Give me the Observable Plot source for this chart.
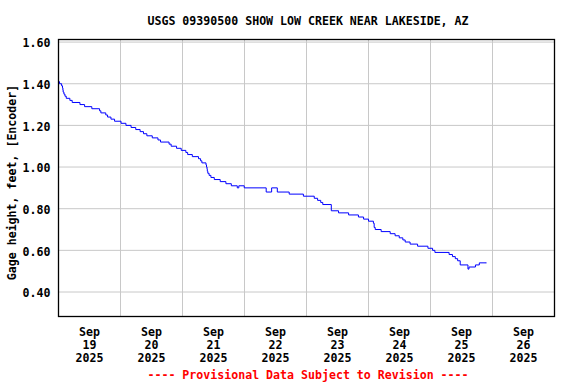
<!DOCTYPE html>
<html><head><meta charset="utf-8">
<script src="https://cdn.jsdelivr.net/npm/d3@7"></script>
<script src="https://cdn.jsdelivr.net/npm/@observablehq/plot@0.6"></script>
<style>body{margin:0;background:#fff}</style>
</head><body><div id="chart"></div>
<script>
const title = "USGS 09390500 SHOW LOW CREEK NEAR LAKESIDE, AZ";
const yLabel = "Gage height, feet, [Encoder]";
const caption = "---- Provisional Data Subject to Revision ----";

// hours since 2025-09-19 00:00 (step change points) and gage height (ft)
const hours = [0, 0.4, 1.2, 1.55, 1.7, 1.8, 2.1, 2.5, 3.0, 4.4, 5.3, 8.3, 10.1, 12.9, 15.9, 16.4, 18.3, 19.0, 20.3, 21.7,
  24.2, 26.1, 28.1, 29.9, 31.6, 32.9, 34.2, 36.3, 38.5, 39.5, 42.8, 43.6, 45.7, 47.5, 49.3, 50.0, 51.8, 54.2, 55.0, 55.5,
  57.1, 57.3, 57.5, 57.6, 57.8, 58.3, 59.0, 60.3, 62.6, 64.8, 66.9, 69.2, 69.8, 71.9, 80.4, 82.5, 84.7, 89.3, 94.8, 99.0,
  100.3, 101.5, 102.3, 105.6, 108.4, 112.3, 116.1, 118.1, 120.0, 121.9, 122.2, 122.6, 124.9, 128.4, 130.3, 131.9, 133.3, 134.2, 136.1, 139.0,
  143.0, 144.8, 145.7, 151.2, 152.5, 153.6, 154.5, 155.5, 158.5, 158.9, 161.4, 162.9, 165.6];
const gage = [1.41, 1.40, 1.39, 1.38, 1.37, 1.36, 1.35, 1.34, 1.33, 1.32, 1.31, 1.30, 1.29, 1.28, 1.27, 1.26, 1.25, 1.24, 1.23, 1.22,
  1.21, 1.20, 1.19, 1.18, 1.17, 1.16, 1.15, 1.14, 1.13, 1.12, 1.11, 1.10, 1.09, 1.08, 1.07, 1.06, 1.05, 1.04, 1.03, 1.02,
  1.01, 1.00, 0.99, 0.98, 0.97, 0.96, 0.95, 0.94, 0.93, 0.92, 0.91, 0.90, 0.91, 0.90, 0.88, 0.90, 0.88, 0.87, 0.86, 0.85,
  0.84, 0.83, 0.82, 0.79, 0.78, 0.77, 0.76, 0.75, 0.74, 0.73, 0.71, 0.70, 0.69, 0.68, 0.67, 0.66, 0.65, 0.64, 0.63, 0.62,
  0.61, 0.60, 0.59, 0.58, 0.57, 0.56, 0.55, 0.53, 0.51, 0.52, 0.53, 0.54, 0.54];

const dayGrid = [0, 24, 48, 72, 96, 120, 144, 168, 192];
const dayCenters = [12, 36, 60, 84, 108, 132, 156, 180];
const xTickLabels = ["Sep\n19\n2025", "Sep\n20\n2025", "Sep\n21\n2025", "Sep\n22\n2025",
  "Sep\n23\n2025", "Sep\n24\n2025", "Sep\n25\n2025", "Sep\n26\n2025"];
const yTicks = [0.40, 0.60, 0.80, 1.00, 1.20, 1.40, 1.60];
const yTickLabels = ["0.40", "0.60", "0.80", "1.00", "1.20", "1.40", "1.60"];

const series = hours.map((h, i) => ({h, v: gage[i]}));
const font = "DejaVu Sans Mono";

const chart = Plot.plot({
  width: 576,
  height: 384,
  marginTop: 39,
  marginLeft: 58,
  marginRight: 22,
  marginBottom: 68,
  style: {fontFamily: font, fontSize: "11.6px", fontWeight: "bold", background: "#fff", color: "#000"},
  x: {type: "linear", domain: [0, 192]},
  y: {domain: [0.2824, 1.6124]},
  marks: [
    Plot.ruleX(dayGrid, {x: d => d, stroke: "#c8c8c8", strokeWidth: 1}),
    Plot.ruleY(yTicks, {y: d => d, stroke: "#c8c8c8", strokeWidth: 1}),
    Plot.line(series, {x: "h", y: "v", curve: "step-after", stroke: "#0000ff", strokeWidth: 1}),
    Plot.frame({stroke: "#000", strokeWidth: 1.3}),
    Plot.axisY({ticks: yTicks, tickSize: 0, tickPadding: 8, dy: 1.5,
      tickFormat: d => yTickLabels[yTicks.indexOf(d)], label: null}),
    Plot.axisX({ticks: dayCenters, tickSize: 0, tickPadding: 10, lineHeight: 1.12,
      tickFormat: d => xTickLabels[dayCenters.indexOf(d)], label: null}),
    Plot.text([yLabel], {text: d => d, frameAnchor: "left", rotate: -90, dx: -46, dy: 4.5,
      textAnchor: "middle", lineAnchor: "middle"}),
    Plot.text([title], {text: d => d, frameAnchor: "top", dy: -18.3, dx: 1.5,
      textAnchor: "middle", lineAnchor: "middle"}),
    Plot.text([caption], {text: d => d, frameAnchor: "bottom", dy: 59, dx: 1.5, fill: "#ff0000",
      textAnchor: "middle", lineAnchor: "middle"})
  ]
});
document.getElementById("chart").appendChild(chart);
</script>
</body></html>
